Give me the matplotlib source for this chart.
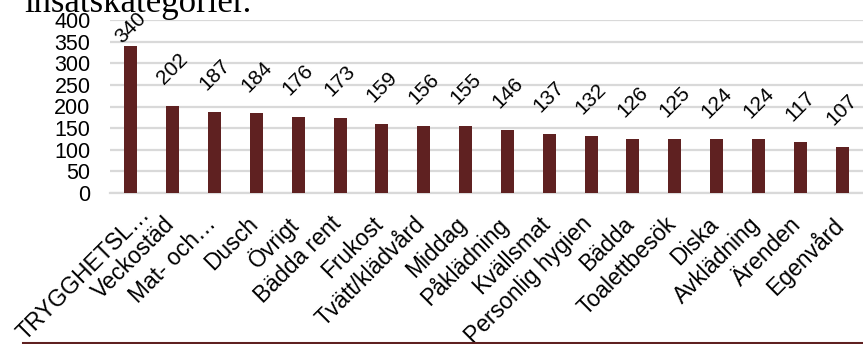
import matplotlib
matplotlib.use("Agg")
import matplotlib.pyplot as plt
import matplotlib.transforms as mtransforms

categories = ["TRYGGHETSL…", "Veckostäd", "Mat- och…", "Dusch", "Övrigt", "Bädda rent",
              "Frukost", "Tvätt/klädvård", "Middag", "Påklädning", "Kvällsmat",
              "Personlig hygien", "Bädda", "Toalettbesök", "Diska", "Avklädning",
              "Ärenden", "Egenvård"]
values = [340, 202, 187, 184, 176, 173, 159, 156, 155, 146, 137, 132, 126, 125, 124, 124, 117, 107]
yticks = [0, 50, 100, 150, 200, 250, 300, 350, 400]
title = "insatskategorier."

bar_color = "#5f2121"
FONT = "Liberation Sans"
W, H = 863, 344
fig = plt.figure(figsize=(W / 100, H / 100), dpi=100)
ax = fig.add_axes([110 / W, (H - 193) / H, (W - 110) / W, (193 - 20) / H])

x = list(range(len(categories)))
ax.bar(x, values, width=0.31, color=bar_color, zorder=3)
ax.set_xlim(-0.5, len(categories) - 0.5)
ax.set_ylim(0, 400)
ax.set_yticks(yticks)
ax.set_yticklabels([str(v) for v in yticks], fontsize=15.5, family=FONT)
ax.grid(axis="y", color="#d9d9d9", linewidth=1.6, zorder=0)
for s in ["top", "right", "left"]:
    ax.spines[s].set_visible(False)
ax.spines["bottom"].set_color("#d9d9d9")
ax.spines["bottom"].set_linewidth(1.6)
ax.tick_params(axis="y", length=0, pad=14)
ax.tick_params(axis="x", length=0, pad=14)
ax.set_xticks(x)
ax.set_xticklabels(categories, rotation=45, ha="right", va="top",
                   rotation_mode="default", fontsize=16.5, family=FONT)
shift = mtransforms.ScaledTranslation(6 / 100, 0, fig.dpi_scale_trans)
for lbl in ax.get_xticklabels():
    lbl.set_transform(lbl.get_transform() + shift)

fig.canvas.draw()
renderer = fig.canvas.get_renderer()

# keep the first category label inside the figure (as the original does)
for lbl in ax.get_xticklabels():
    bb = lbl.get_window_extent(renderer)
    if bb.x0 < 13:
        d = 13 - bb.x0
        extra = mtransforms.ScaledTranslation(d / 100, 0.55 * d / 100, fig.dpi_scale_trans)
        lbl.set_transform(lbl.get_transform() + extra)

gap_px = 18
for xi, v in zip(x, values):
    t = ax.annotate(str(v), (xi, v), xytext=(0, gap_px * 0.72), textcoords="offset points",
                    ha="center", va="bottom", rotation=45, fontsize=15,
                    family=FONT)
    bb = t.get_window_extent(renderer)
    top_limit = H - 9
    if bb.y1 > top_limit:
        over = bb.y1 - top_limit
        t.xyann = (0, (gap_px - over) * 0.72)

fig.text(24 / W, 1.0 - 12 / H, title, fontsize=25, family="Liberation Serif",
         ha="left", va="baseline")

fig.add_artist(plt.Line2D([23 / W, 1.0], [1.2 / H, 1.2 / H], color=bar_color,
                          linewidth=2.2, transform=fig.transFigure))

fig.savefig("out.png", dpi=100)
